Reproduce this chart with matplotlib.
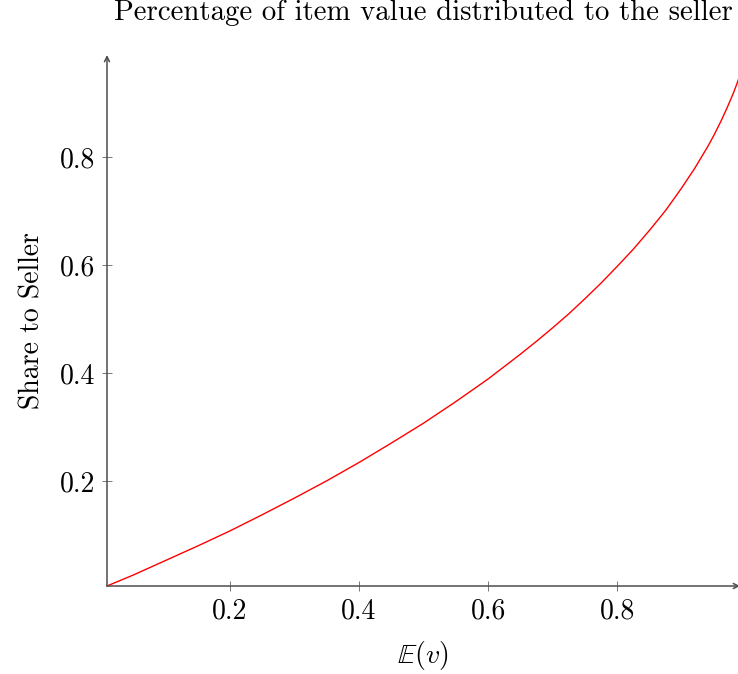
"""Share of item value going to the seller, pgfplots-like look."""
import matplotlib
matplotlib.use("Agg")
import matplotlib.pyplot as plt

# values
expected_value = [0.01, 0.05, 0.10, 0.15, 0.20, 0.25, 0.30, 0.35, 0.40, 0.45,
                  0.50, 0.55, 0.60, 0.625, 0.65, 0.675, 0.70, 0.725, 0.75, 0.775,
                  0.80, 0.825, 0.85, 0.865, 0.875, 0.89, 0.90, 0.91, 0.92, 0.93,
                  0.94, 0.95, 0.96, 0.97, 0.98, 0.985, 0.99]
seller_share = [0.005, 0.025, 0.052, 0.079, 0.107, 0.137, 0.168, 0.200, 0.234, 0.270,
                0.307, 0.347, 0.389, 0.412, 0.435, 0.459, 0.484, 0.510, 0.538, 0.567,
                0.598, 0.630, 0.665, 0.687, 0.702, 0.727, 0.744, 0.762, 0.780, 0.800,
                0.820, 0.842, 0.866, 0.892, 0.920, 0.936, 0.953]

x_ticks = [0.2, 0.4, 0.6, 0.8]
y_ticks = [0.2, 0.4, 0.6, 0.8]
x_range = (0.01, 0.99)
y_range = (0.005, 0.99)

plt.rcParams["font.family"] = "serif"
plt.rcParams["font.serif"] = ["cmr10"]
plt.rcParams["mathtext.fontset"] = "cm"
plt.rcParams["axes.formatter.use_mathtext"] = True

fig = plt.figure(figsize=(7.38, 6.74), dpi=100)
ax = fig.add_axes([107 / 738, 88 / 674, 633 / 738, 531 / 674])

ax.plot(expected_value, seller_share, color="red", lw=1.0, clip_on=False)
ax.set_xlim(*x_range)
ax.set_ylim(*y_range)

for side in ("top", "right", "left", "bottom"):
    ax.spines[side].set_visible(False)

# axis lines with arrow tips, like pgfplots "axis lines=left"
axis_grey = "#4d4d4d"
arrow = dict(arrowstyle="->", color=axis_grey, lw=1.1, shrinkA=0, shrinkB=0,
             mutation_scale=9)
ax.annotate("", xy=(0, 1), xytext=(0, 0), xycoords="axes fraction",
            arrowprops=arrow, annotation_clip=False)
ax.annotate("", xy=(1, 0), xytext=(0, 0), xycoords="axes fraction",
            arrowprops=arrow, annotation_clip=False)

ax.set_xticks(x_ticks)
ax.set_yticks(y_ticks)
ax.set_xticklabels([f"{t:.1f}" for t in x_ticks])
ax.set_yticklabels([f"{t:.1f}" for t in y_ticks])
ax.tick_params(direction="inout", length=7, width=0.7, color="#777777",
               labelsize=20, pad=5)

ax.set_xlabel(r"$\mathbb{E}(v)$", fontsize=20, labelpad=11)
ax.set_ylabel("Share to Seller", fontsize=20, labelpad=10)
ax.set_title("Percentage of item value distributed to the seller",
             fontsize=20.8, pad=25)

fig.savefig("out.png", dpi=100)
